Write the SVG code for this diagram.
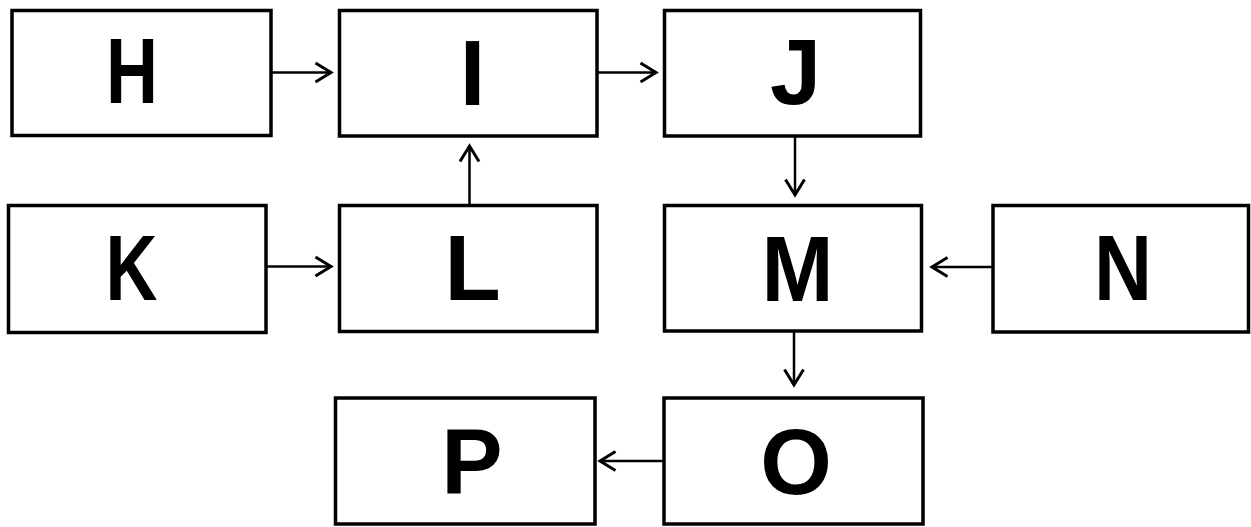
<svg xmlns="http://www.w3.org/2000/svg" width="1251" height="527" viewBox="0 0 1251 527">
<style>
.box{fill:#fff;stroke:#000;stroke-width:3.5}
.lbl{font-family:"Liberation Sans",Arial,sans-serif;font-weight:bold;font-size:92px;text-anchor:middle;fill:#000}
.edge{fill:none;stroke:#000;stroke-width:2.5}
</style>
<defs>
<marker id="arr" markerUnits="userSpaceOnUse" markerWidth="20" markerHeight="24" refX="17" refY="11" orient="auto" viewBox="0 0 20 22">
<path d="M1.5,1.5 L17,11 L1.5,20.5" fill="none" stroke="#000" stroke-width="3"/>
</marker>
</defs>
<rect width="1251" height="527" fill="#fff"/>
<g id="H"><rect class="box" x="12" y="10.5" width="259" height="125"/><text class="lbl" x="132" y="103" textLength="52" lengthAdjust="spacingAndGlyphs">H</text></g>
<g id="I"><rect class="box" x="339.5" y="10.5" width="257.5" height="125.5"/><text class="lbl" x="472.5" y="105">I</text></g>
<g id="J"><rect class="box" x="664.5" y="10.5" width="256" height="125.5"/><text class="lbl" x="795.5" y="104">J</text></g>
<g id="K"><rect class="box" x="8.5" y="205.5" width="257.5" height="127"/><text class="lbl" x="131.5" y="300" textLength="52" lengthAdjust="spacingAndGlyphs">K</text></g>
<g id="L"><rect class="box" x="339.5" y="205.5" width="257.5" height="126"/><text class="lbl" x="472.5" y="300">L</text></g>
<g id="M"><rect class="box" x="664.5" y="205.5" width="257" height="125.5"/><text class="lbl" x="797.5" y="301" textLength="72" lengthAdjust="spacingAndGlyphs">M</text></g>
<g id="N"><rect class="box" x="993" y="205.5" width="255.5" height="126.5"/><text class="lbl" x="1123" y="300" textLength="58" lengthAdjust="spacingAndGlyphs">N</text></g>
<g id="O"><rect class="box" x="664" y="398" width="259" height="126"/><text class="lbl" x="796" y="494">O</text></g>
<g id="P"><rect class="box" x="335.5" y="398" width="259.5" height="126"/><text class="lbl" x="472" y="494">P</text></g>
<g id="connectors">
<line class="edge" x1="272" y1="72.5" x2="331" y2="72.5" marker-end="url(#arr)"/>
<line class="edge" x1="598" y1="72.5" x2="656" y2="72.5" marker-end="url(#arr)"/>
<line class="edge" x1="469.5" y1="204" x2="469.5" y2="146" marker-end="url(#arr)"/>
<line class="edge" x1="795" y1="137" x2="795" y2="195" marker-end="url(#arr)"/>
<line class="edge" x1="267" y1="266.5" x2="331" y2="266.5" marker-end="url(#arr)"/>
<line class="edge" x1="992" y1="267" x2="932" y2="267" marker-end="url(#arr)"/>
<line class="edge" x1="794" y1="332" x2="794" y2="385" marker-end="url(#arr)"/>
<line class="edge" x1="663" y1="461" x2="600" y2="461" marker-end="url(#arr)"/>
</g>
</svg>
